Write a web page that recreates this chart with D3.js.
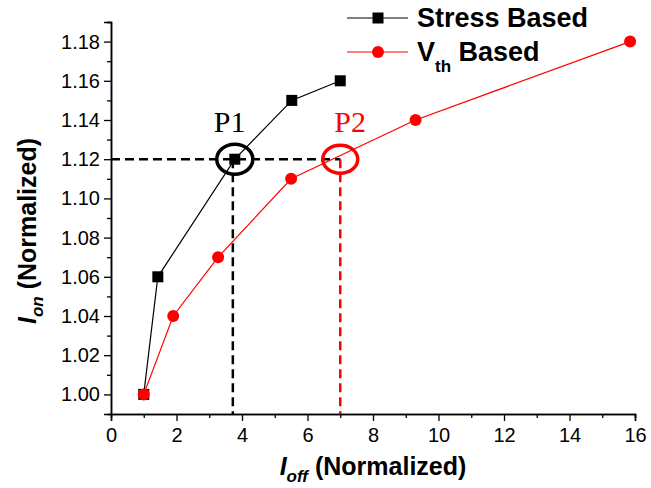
<!DOCTYPE html>
<html>
<head>
<meta charset="utf-8">
<script src="https://cdn.jsdelivr.net/npm/d3@7"></script>
<style>
  html, body { margin: 0; padding: 0; background: #fff; }
  svg { display: block; }
</style>
</head>
<body>
<svg id="chart" width="651" height="488"></svg>
<script>
// ---- data ----
const stressX = [1.0, 1.43, 3.78, 5.52, 7.0];
const stressY = [1.00, 1.06, 1.12, 1.15, 1.16];
const vthX = [1.0, 1.9, 3.27, 5.5, 9.3, 15.85];
const vthY = [1.00, 1.04, 1.07, 1.11, 1.14, 1.18];
const seriesNames = ["Stress Based", "V", "th", " Based"];
const xTicks = [0, 2, 4, 6, 8, 10, 12, 14, 16];
const yTicks = [1.00, 1.02, 1.04, 1.06, 1.08, 1.10, 1.12, 1.14, 1.16, 1.18];
const refLevel = 1.12;
const refP1 = 3.72;
const refP2 = 7.0;
const circleP1 = [3.78, 1.12];
const circleP2 = [7.0, 1.12];
const labelP1 = ["P1", 3.62, 1.134];
const labelP2 = ["P2", 7.3, 1.134];

const svg = d3.select("#chart");
const x = d3.scaleLinear().domain([0, 16]).range([111, 635]);
const y = d3.scaleLinear().domain([0.99, 1.19]).range([414, 22]);
const sans = "Arial, 'Liberation Sans', sans-serif";
const serif = "'Times New Roman', 'Liberation Serif', serif";

// axes
const xAxis = d3.axisBottom(x).tickValues(xTicks).tickSize(7).tickPadding(7).tickFormat(d3.format("d"));
const xMinor = d3.axisBottom(x).tickValues(d3.range(1, 16, 2)).tickSize(4).tickFormat("");
const yAxis = d3.axisLeft(y).tickValues(yTicks).tickSize(7).tickPadding(4).tickFormat(d3.format(".2f"));
const yMinor = d3.axisLeft(y).tickValues(d3.range(0, 10).map(i => 1.01 + 0.02 * i)).tickSize(4).tickFormat("");

function styleAxis(g) {
  g.selectAll("path.domain").attr("stroke", "#000").attr("stroke-width", 1.5);
  g.selectAll(".tick line").attr("stroke", "#000").attr("stroke-width", 1.3);
  g.selectAll(".tick text").attr("font-family", sans).attr("font-size", 20).attr("fill", "#000");
}
svg.append("g").attr("transform", "translate(0,414)").call(xMinor).call(styleAxis);
svg.append("g").attr("transform", "translate(0,414)").call(xAxis).call(styleAxis);
svg.append("g").attr("transform", "translate(111,0)").call(yMinor).call(styleAxis);
svg.append("g").attr("transform", "translate(111,0)").call(yAxis).call(styleAxis);

// reference dashed lines
svg.append("line").attr("x1", x(0)).attr("x2", x(refP2)).attr("y1", y(refLevel)).attr("y2", y(refLevel))
  .attr("stroke", "#000").attr("stroke-width", 2.5).attr("stroke-dasharray", "9,5");
svg.append("line").attr("x1", x(refP1)).attr("x2", x(refP1)).attr("y1", y(refLevel)).attr("y2", y(0.99))
  .attr("stroke", "#000").attr("stroke-width", 2.5).attr("stroke-dasharray", "9,5");
svg.append("line").attr("x1", x(refP2)).attr("x2", x(refP2)).attr("y1", y(refLevel)).attr("y2", y(0.99))
  .attr("stroke", "#ff0000").attr("stroke-width", 2.5).attr("stroke-dasharray", "9,5");

// series lines
const line = d3.line().x(d => x(d[0])).y(d => y(d[1]));
const stress = stressX.map((v, i) => [v, stressY[i]]);
const vth = vthX.map((v, i) => [v, vthY[i]]);
svg.append("path").datum(stress).attr("d", line).attr("fill", "none").attr("stroke", "#000").attr("stroke-width", 1.2);
svg.append("path").datum(vth).attr("d", line).attr("fill", "none").attr("stroke", "#ff0000").attr("stroke-width", 1.2);

svg.selectAll("rect.sq").data(stress).enter().append("rect").attr("class", "sq")
  .attr("x", d => x(d[0]) - 5.5).attr("y", d => y(d[1]) - 5.5).attr("width", 11).attr("height", 11).attr("fill", "#000");
svg.selectAll("circle.dot").data(vth).enter().append("circle").attr("class", "dot")
  .attr("cx", d => x(d[0])).attr("cy", d => y(d[1])).attr("r", 6).attr("fill", "#ff0000");

// annotation ellipses
svg.append("ellipse").attr("cx", x(circleP1[0])).attr("cy", y(circleP1[1])).attr("rx", 18).attr("ry", 15)
  .attr("fill", "none").attr("stroke", "#000").attr("stroke-width", 3.5);
svg.append("ellipse").attr("cx", x(circleP2[0])).attr("cy", y(circleP2[1])).attr("rx", 17.5).attr("ry", 14)
  .attr("fill", "none").attr("stroke", "#ff0000").attr("stroke-width", 3.5);
svg.append("text").attr("x", x(labelP1[1])).attr("y", y(labelP1[2])).attr("text-anchor", "middle")
  .attr("font-family", serif).attr("font-size", 30).attr("fill", "#000").text(labelP1[0]);
svg.append("text").attr("x", x(labelP2[1])).attr("y", y(labelP2[2])).attr("text-anchor", "middle")
  .attr("font-family", serif).attr("font-size", 30).attr("fill", "#ff0000").text(labelP2[0]);

// legend
const lg = svg.append("g");
lg.append("line").attr("x1", 347).attr("x2", 408).attr("y1", 18).attr("y2", 18).attr("stroke", "#000").attr("stroke-width", 1.2);
lg.append("rect").attr("x", 378 - 5.5).attr("y", 18 - 5.5).attr("width", 11).attr("height", 11).attr("fill", "#000");
lg.append("text").attr("x", 417).attr("y", 27).attr("font-family", sans).attr("font-weight", "bold").attr("font-size", 27)
  .attr("fill", "#000").text(seriesNames[0]);
lg.append("line").attr("x1", 347).attr("x2", 408).attr("y1", 52).attr("y2", 52).attr("stroke", "#ff0000").attr("stroke-width", 1.2);
lg.append("circle").attr("cx", 378).attr("cy", 52).attr("r", 6).attr("fill", "#ff0000");
const t2 = lg.append("text").attr("x", 417).attr("y", 61).attr("font-family", sans).attr("font-weight", "bold").attr("font-size", 27).attr("fill", "#000");
t2.append("tspan").text(seriesNames[1]);
t2.append("tspan").attr("font-size", 17).attr("dy", 11).text(seriesNames[2]);
t2.append("tspan").attr("dy", -11).text(seriesNames[3]);

// axis titles
const xt = svg.append("text").attr("x", 373).attr("y", 475).attr("text-anchor", "middle")
  .attr("font-family", sans).attr("font-weight", "bold").attr("font-size", 25).attr("fill", "#000");
xt.append("tspan").attr("font-style", "italic").text("I");
xt.append("tspan").attr("font-style", "italic").attr("font-size", 17).attr("dy", 7).text("off");
xt.append("tspan").attr("dy", -7).text(" (Normalized)");

const yt = svg.append("text").attr("transform", "translate(36,231) rotate(-90)").attr("text-anchor", "middle")
  .attr("font-family", sans).attr("font-weight", "bold").attr("font-size", 25).attr("fill", "#000");
yt.append("tspan").attr("font-style", "italic").text("I");
yt.append("tspan").attr("font-style", "italic").attr("font-size", 17).attr("dy", 7).text("on");
yt.append("tspan").attr("dy", -7).text(" (Normalized)");
</script>
</body>
</html>
